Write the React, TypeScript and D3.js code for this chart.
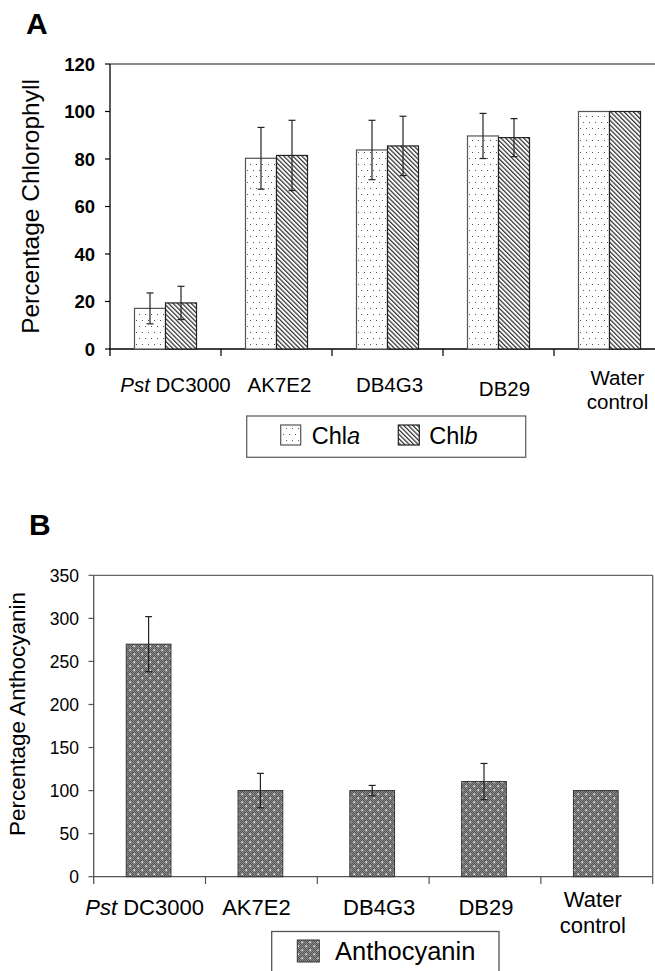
import React from "react";
import * as d3 from "d3";

const categories = ["Pst DC3000", "AK7E2", "DB4G3", "DB29", "Water control"];
const chlA = [17.1, 80.3, 83.8, 89.7, 100];
const chlAErr = [6.5, 13, 12.5, 9.5, 0];
const chlB = [19.4, 81.5, 85.5, 89.0, 100];
const chlBErr = [7, 14.8, 12.5, 8, 0];
const antho = [270, 100, 100, 110.5, 100];
const anthoErr = [32, 20, 6, 21, 0];
const ticksA = [0, 20, 40, 60, 80, 100, 120];
const ticksB = [0, 50, 100, 150, 200, 250, 300, 350];
const seriesA = ["a", "b"];

const FONT = "'Liberation Sans', Arial, sans-serif";

function CatLabel({ cat, x, y, size }: { cat: string; x: number; y: number; size: number }) {
  if (cat === "Pst DC3000") {
    return (
      <text x={x} y={y} textAnchor="middle" fontSize={size} fontFamily={FONT}>
        <tspan fontStyle="italic">Pst</tspan>
        <tspan> DC3000</tspan>
      </text>
    );
  }
  if (cat === "Water control") {
    return (
      <text x={x} y={y - size * 0.35} textAnchor="middle" fontSize={size} fontFamily={FONT}>
        <tspan x={x}>Water</tspan>
        <tspan x={x} dy={size * 1.2}>control</tspan>
      </text>
    );
  }
  return (
    <text x={x} y={y} textAnchor="middle" fontSize={size} fontFamily={FONT}>
      {cat}
    </text>
  );
}

export default function App() {
  // Panel A scales
  const xA = d3.scaleBand<string>().domain(categories).range([110, 665]).padding(0);
  const x1 = d3.scaleBand<string>().domain(seriesA).range([0, xA.bandwidth()]).paddingInner(0).paddingOuter(0.79);
  const yA = d3.scaleLinear().domain([0, 120]).range([349, 64]);

  // Panel B scales
  const xB = d3.scaleBand<string>().domain(categories).range([93.7, 652.7]).padding(0);
  const yB = d3.scaleLinear().domain([0, 350]).range([876.7, 575.3]);
  const bwB = xB.bandwidth() * 0.4;

  const checker: [number, number][] = [];
  for (let i = 0; i < 8; i++) for (let j = 0; j < 8; j++) if ((i + j) % 2 === 0) checker.push([i, j]);

  const labelShiftA = [10, 3, 2, 6, 8];
  const labelDyA = [0, 0, 0, 4, 0];
  const labelShiftB = [-5, -5, 6, 1, -4];

  const errBar = (cx: number, y0: number, y1: number, key: string) => (
    <g key={key} stroke="#222" strokeWidth={1.2}>
      <line x1={cx} x2={cx} y1={y0} y2={y1} />
      <line x1={cx - 3.5} x2={cx + 3.5} y1={y0} y2={y0} />
      <line x1={cx - 3.5} x2={cx + 3.5} y1={y1} y2={y1} />
    </g>
  );

  return (
    <svg
      width={655}
      height={971}
      style={{ position: "absolute", left: 0, top: 0, background: "#fff" }}
      fontFamily={FONT}
    >
      <defs>
        <pattern id="dots" patternUnits="userSpaceOnUse" width={6} height={12}>
          <rect width={6} height={12} fill="#fff" />
          <rect x={1} y={2} width={1} height={1} fill="#555" />
          <rect x={4} y={8} width={1} height={1} fill="#555" />
        </pattern>
        <pattern id="hatch" patternUnits="userSpaceOnUse" width={3.2} height={3.2} patternTransform="rotate(-45)">
          <rect width={3.2} height={3.2} fill="#fff" />
          <line x1={0.6} x2={0.6} y1={0} y2={3.2} stroke="#333" strokeWidth={1.3} />
        </pattern>
        <pattern id="antho" patternUnits="userSpaceOnUse" width={8} height={8}>
          <rect width={8} height={8} fill="#555" />
          {checker.map(([i, j]) => (
            <rect key={`${i}-${j}`} x={i} y={j} width={1} height={1} fill="#8c8c8c" />
          ))}
          <rect x={1.5} y={1.5} width={1.6} height={1.6} fill="#f4f4f4" />
          <rect x={5.5} y={5.5} width={1.6} height={1.6} fill="#f4f4f4" />
        </pattern>
      </defs>
      <rect width={655} height={971} fill="#fff" />

      {/* ================= Panel A ================= */}
      <text x={26} y={34} fontSize={30} fontWeight="bold">A</text>

      {/* frame */}
      <line x1={110} x2={665} y1={64} y2={64} stroke="#666" strokeWidth={1.3} />
      <line x1={110} x2={110} y1={64} y2={356} stroke="#000" strokeWidth={1.3} />
      <line x1={110} x2={665} y1={349} y2={349} stroke="#000" strokeWidth={1.3} />
      {ticksA.map((t) => (
        <g key={t}>
          <line x1={105} x2={110} y1={yA(t)} y2={yA(t)} stroke="#000" strokeWidth={1.2} />
          <text x={95} y={yA(t)} dy="0.36em" textAnchor="end" fontSize={18.5} fontWeight="bold">
            {t}
          </text>
        </g>
      ))}
      {categories.map((c) => (
        <line key={c} x1={(xA(c) as number) + xA.bandwidth()} x2={(xA(c) as number) + xA.bandwidth()} y1={349} y2={356} stroke="#000" strokeWidth={1.2} />
      ))}
      <text
        transform={`translate(30,${(yA(0) + yA(120)) / 2}) rotate(-90)`}
        textAnchor="middle"
        dominantBaseline="central"
        fontSize={24.5}
      >
        Percentage Chlorophyll
      </text>

      {/* bars A */}
      {categories.map((c, i) => {
        const gx = xA(c) as number;
        const xa = gx + (x1("a") as number);
        const xb = gx + (x1("b") as number);
        const w = x1.bandwidth();
        return (
          <g key={c}>
            <rect x={xa} y={yA(chlA[i])} width={w} height={yA(0) - yA(chlA[i])} fill="url(#dots)" stroke="#555" strokeWidth={1.2} />
            <rect x={xb} y={yA(chlB[i])} width={w} height={yA(0) - yA(chlB[i])} fill="url(#hatch)" stroke="#222" strokeWidth={1.2} />
            {chlAErr[i] > 0 && errBar(xa + w / 2, yA(chlA[i] + chlAErr[i]), yA(chlA[i] - chlAErr[i]), "ea")}
            {chlBErr[i] > 0 && errBar(xb + w / 2, yA(chlB[i] + chlBErr[i]), yA(chlB[i] - chlBErr[i]), "eb")}
          </g>
        );
      })}

      {/* x labels A */}
      {categories.map((c, i) => (
        <CatLabel key={c} cat={c} x={(xA(c) as number) + xA.bandwidth() / 2 + labelShiftA[i]} y={392 + labelDyA[i]} size={20.5} />
      ))}

      {/* legend A */}
      <rect x={246.7} y={416} width={279} height={41.3} fill="#fff" stroke="#666" strokeWidth={1.3} />
      <rect x={280.7} y={425} width={20} height={20} fill="url(#dots)" stroke="#555" strokeWidth={1.2} />
      <text x={311.7} y={444} fontSize={23.5}>
        Chl<tspan fontStyle="italic">a</tspan>
      </text>
      <rect x={398.3} y={425} width={21} height={20} fill="url(#hatch)" stroke="#222" strokeWidth={1.2} />
      <text x={429.3} y={444} fontSize={23.5}>
        Chl<tspan fontStyle="italic">b</tspan>
      </text>

      {/* ================= Panel B ================= */}
      <text x={29} y={535} fontSize={30} fontWeight="bold">B</text>

      <line x1={93.7} x2={652.7} y1={575.3} y2={575.3} stroke="#666" strokeWidth={1.3} />
      <line x1={652.7} x2={652.7} y1={575.3} y2={876.7} stroke="#666" strokeWidth={1.3} />
      <line x1={93.7} x2={93.7} y1={575.3} y2={884} stroke="#555" strokeWidth={1.3} />
      <line x1={93.7} x2={652.7} y1={876.7} y2={876.7} stroke="#555" strokeWidth={1.3} />
      {ticksB.map((t) => (
        <g key={t}>
          <line x1={88.5} x2={93.7} y1={yB(t)} y2={yB(t)} stroke="#555" strokeWidth={1.2} />
          <text x={79} y={yB(t)} dy="0.36em" textAnchor="end" fontSize={17.5}>
            {t}
          </text>
        </g>
      ))}
      {categories.map((c) => (
        <line key={c} x1={(xB(c) as number) + xB.bandwidth()} x2={(xB(c) as number) + xB.bandwidth()} y1={876.7} y2={884} stroke="#555" strokeWidth={1.2} />
      ))}
      <text
        transform={`translate(17,${(yB(0) + yB(350)) / 2 - 12}) rotate(-90)`}
        textAnchor="middle"
        dominantBaseline="central"
        fontSize={22.5}
      >
        Percentage Anthocyanin
      </text>

      {categories.map((c, i) => {
        const cx = (xB(c) as number) + xB.bandwidth() / 2 - 1;
        return (
          <g key={c}>
            <rect x={cx - bwB / 2} y={yB(antho[i])} width={bwB} height={yB(0) - yB(antho[i])} fill="url(#antho)" stroke="#333" strokeWidth={1} />
            {anthoErr[i] > 0 && errBar(cx, yB(antho[i] + anthoErr[i]), yB(antho[i] - anthoErr[i]), "e")}
          </g>
        );
      })}

      {categories.map((c, i) => (
        <CatLabel key={c} cat={c} x={(xB(c) as number) + xB.bandwidth() / 2 + labelShiftB[i]} y={914.5} size={22} />
      ))}

      {/* legend B */}
      <rect x={271.7} y={931.5} width={227.3} height={55} fill="#fff" stroke="#555" strokeWidth={1.3} />
      <rect x={297.3} y={940} width={22} height={22} fill="url(#antho)" stroke="#333" strokeWidth={1} />
      <text x={335} y={960} fontSize={25.5}>
        Anthocyanin
      </text>
    </svg>
  );
}
